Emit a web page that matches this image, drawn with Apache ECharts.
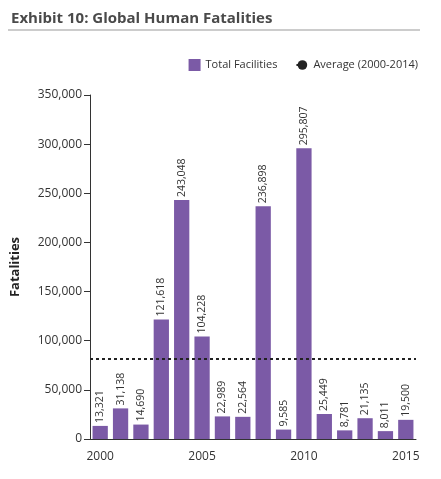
<!DOCTYPE html><html><head><meta charset="utf-8"><script src="https://cdn.jsdelivr.net/npm/echarts@6/dist/echarts.min.js"></script><style>body{margin:0}#c{width:441px;height:479px}</style></head><body><div id="c"></div><script>
const years=['2000','2001','2002','2003','2004','2005','2006','2007','2008','2009','2010','2011','2012','2013','2014','2015'];
const fatalities=[13321,31138,14690,121618,243048,104228,22989,22564,236898,9585,295807,25449,8781,21135,8011,19500];
const average=82000;
const yTicks=[0,50000,100000,150000,200000,250000,300000,350000];
const ch=echarts.init(document.getElementById('c'));
ch.setOption({
animation:false,
title:{text:'Exhibit 10: Global Human Fatalities',left:6,top:6,textStyle:{fontFamily:'Open Sans',fontSize:15,fontWeight:'bold',color:'#4a4a4a'}},
graphic:[{type:'line',shape:{x1:8,y1:30,x2:420,y2:30},style:{stroke:'#999',lineWidth:1}}],
legend:{top:54,right:18,itemWidth:12,itemHeight:12,itemGap:18,textStyle:{fontFamily:'Open Sans',fontSize:11,color:'#333'},
data:[{name:'Total Facilities',icon:'rect'},{name:'Average (2000-2014)'}]},
grid:{left:90,right:25,top:95,bottom:40},
xAxis:{type:'category',data:years,axisLine:{lineStyle:{color:'#333'}},axisTick:{inside:true,length:4,lineStyle:{color:'#333'}},
axisLabel:{interval:0,formatter:(v,i)=>i%5===0?v:'',fontFamily:'Open Sans',fontSize:12,color:'#333',margin:12}},
yAxis:{type:'value',min:0,max:350000,interval:50000,name:'Fatalities',nameLocation:'middle',nameGap:68,
nameTextStyle:{fontFamily:'Open Sans',fontSize:13,fontWeight:'bold',color:'#222'},
axisLine:{show:true,lineStyle:{color:'#333'}},axisTick:{show:true,length:6,lineStyle:{color:'#333'}},splitLine:{show:false},
axisLabel:{formatter:v=>v.toLocaleString('en-US'),fontFamily:'Open Sans',fontSize:12,color:'#333',margin:8}},
series:[{name:'Total Facilities',type:'bar',data:fatalities,barWidth:'75%',itemStyle:{color:'#7b5aa6'},
label:{show:true,position:'top',rotate:90,align:'left',verticalAlign:'middle',distance:3,formatter:p=>p.value.toLocaleString('en-US'),fontFamily:'Open Sans',fontSize:10.5,color:'#333'},
markLine:{symbol:'none',silent:true,label:{show:false},lineStyle:{type:[3,3],color:'#222',width:2},data:[{yAxis:average}]}},
{name:'Average (2000-2014)',type:'line',data:[],itemStyle:{color:'#222'},lineStyle:{type:[3,3],color:'#222',width:2},symbol:'none'}]
});
</script></body></html>
